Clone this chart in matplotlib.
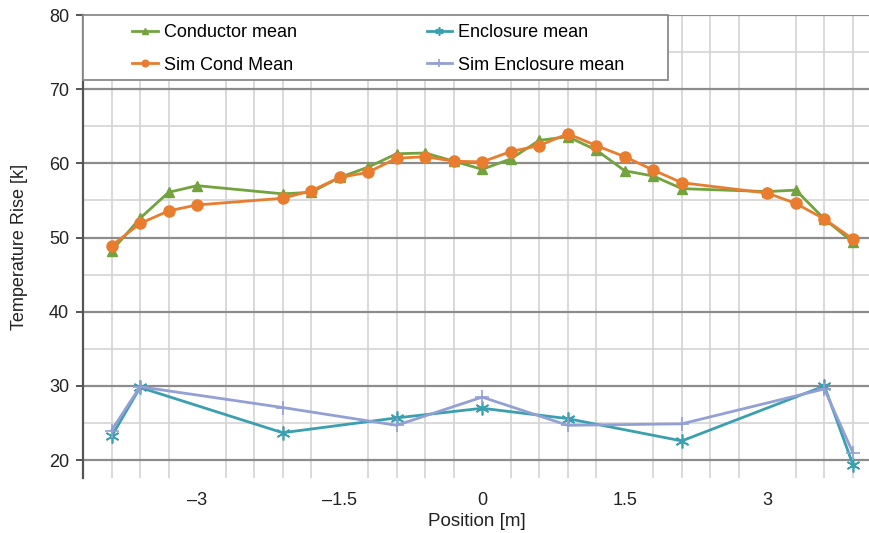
import matplotlib
matplotlib.use('Agg')
import matplotlib.pyplot as plt
from matplotlib.patches import Rectangle
from matplotlib.ticker import MultipleLocator

# Positions along the bus [m]
cond_pos = [-3.9, -3.6, -3.3, -3.0, -2.1, -1.8, -1.5, -1.2, -0.9, -0.6, -0.3, 0.0,
            0.3, 0.6, 0.9, 1.2, 1.5, 1.8, 2.1, 3.0, 3.3, 3.6, 3.9]
encl_pos = [-3.9, -3.6, -2.1, -0.9, 0.0, 0.9, 2.1, 3.6, 3.9]

# Temperature rise [k]
conductor_mean = [48.2, 52.6, 56.1, 57.0, 55.9, 56.1, 58.1, 59.5, 61.3, 61.4, 60.3, 59.2,
                  60.6, 63.1, 63.6, 61.8, 59.0, 58.3, 56.6, 56.2, 56.4, 52.5, 49.4]
sim_cond_mean = [48.9, 51.9, 53.6, 54.4, 55.3, 56.3, 58.1, 58.8, 60.7, 60.9, 60.3, 60.2,
                 61.6, 62.4, 64.0, 62.4, 60.9, 59.1, 57.4, 56.0, 54.6, 52.5, 49.8]
enclosure_mean = [23.2, 29.8, 23.7, 25.7, 27.0, 25.6, 22.6, 30.0, 19.4]
sim_encl_mean = [24.0, 29.9, 27.1, 24.7, 28.5, 24.7, 24.9, 29.6, 21.0]

x_ticks = [-3, -1.5, 0, 1.5, 3]
x_tick_labels = ['\u20133', '\u20131.5', '0', '1.5', '3']
y_ticks = [20, 30, 40, 50, 60, 70, 80]


def main():
    plt.rcParams['font.family'] = ['Liberation Sans', 'DejaVu Sans']

    fig = plt.figure(figsize=(8.7, 5.33), dpi=100)
    ax = fig.add_axes([83 / 870, 1 - 478 / 533, 787 / 870, 463 / 533])

    ax.set_xlim(-4.2, 4.08)
    ax.set_ylim(17.6, 80)

    # Grid: light verticals every 0.3 m, light horizontals every 5, darker every 10
    ax.xaxis.set_minor_locator(MultipleLocator(0.3))
    ax.yaxis.set_minor_locator(MultipleLocator(5))
    ax.grid(which='minor', axis='x', color='#d9d9d9', linewidth=1.4)
    ax.grid(which='minor', axis='y', color='#d4d4d4', linewidth=1.2)
    ax.grid(which='major', axis='y', color='#8c8c8c', linewidth=1.6)
    ax.set_axisbelow(True)

    lw = 2
    ax.plot(cond_pos, conductor_mean, color='#72a33e', linewidth=lw,
            marker='^', markersize=7, label='Conductor mean')
    ax.plot(cond_pos, sim_cond_mean, color='#e87d2f', linewidth=lw,
            marker='o', markersize=8, label='Sim Cond Mean')
    ax.plot(encl_pos, enclosure_mean, color='#3a9fae', linewidth=lw,
            marker=(6, 2, 0), markersize=10, markeredgewidth=1.2, label='Enclosure mean')
    ax.plot(encl_pos, sim_encl_mean, color='#93a0d4', linewidth=lw,
            marker='+', markersize=10, markeredgewidth=1.2, label='Sim Enclosure mean')

    ax.set_xticks(x_ticks)
    ax.set_xticklabels(x_tick_labels)
    ax.set_yticks(y_ticks)
    ax.tick_params(axis='x', which='both', length=0, labelsize=13, pad=10, colors='#222222')
    ax.tick_params(axis='y', which='major', length=5, width=1.4, color='#555555',
                   labelsize=13, pad=5, labelcolor='#222222')
    ax.tick_params(axis='y', which='minor', length=0)

    for side in ['top', 'right', 'bottom']:
        ax.spines[side].set_visible(False)
    ax.spines['left'].set_color('#555555')
    ax.spines['left'].set_linewidth(1.6)

    ax.set_xlabel('Position [m]', fontsize=13.5, color='#222222', labelpad=3)
    ax.set_ylabel('Temperature Rise [k]', fontsize=13, color='#222222', labelpad=15)

    # Legend frame drawn by hand so the box spans the top-left of the plot
    box_w = (668 - 83) / 787
    box_h = (80 - 15) / 463
    ax.add_patch(Rectangle((0, 1 - box_h), box_w, box_h, transform=ax.transAxes,
                           facecolor='white', edgecolor='#8a8a8a', linewidth=1.3,
                           zorder=4, clip_on=False))
    ax.legend(loc='upper left', bbox_to_anchor=(44 / 787, 1 - 4 / 463), ncol=2,
              frameon=False, fontsize=13, handlelength=1.4, handletextpad=0.33,
              columnspacing=7.2, labelspacing=0.85, borderpad=0.3, borderaxespad=0,
              markerscale=0.6)

    fig.savefig('out.png', dpi=100, facecolor='white')


main()
